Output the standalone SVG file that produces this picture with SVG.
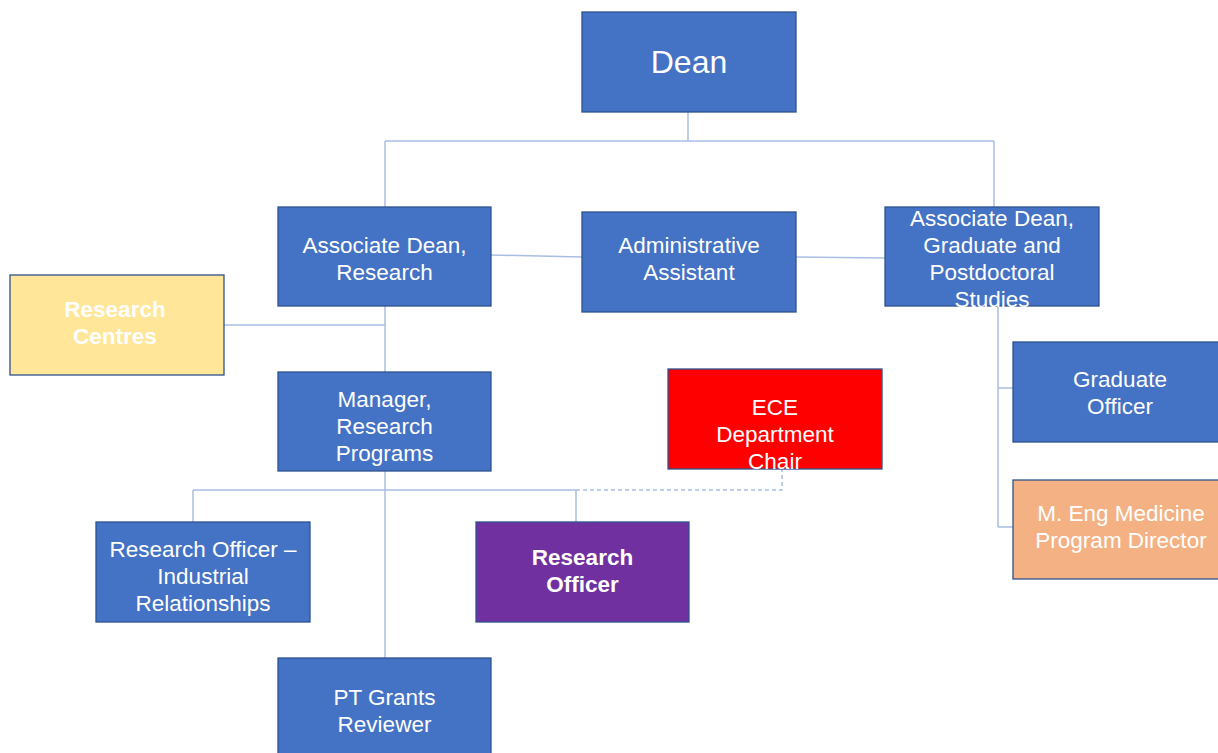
<svg xmlns="http://www.w3.org/2000/svg" width="1218" height="753" viewBox="0 0 1218 753">
<style>
.box{stroke:#2F528F;stroke-width:1.3}
.blue{fill:#4472C4}
.t{font-family:"Liberation Sans",Arial,sans-serif;font-size:22.5px;fill:#fff;text-anchor:middle}
.b{font-weight:bold}
.c{fill:none;stroke:#A9BEE4;stroke-width:1.5}
.d{stroke-dasharray:4 3}
</style>
<rect width="1218" height="753" fill="#fff"/>
<g id="connectors">
<path class="c" d="M688 112V141M385 141H994M385 141V207M994 141V207"/>
<path class="c" d="M491 255L582 257M796 257L885 258"/>
<path class="c" d="M224 325H385M385 306V372"/>
<path class="c" d="M385 471V658M193 490H576M193 490V522M576 490V522"/>
<path class="c d" d="M576 490H782V469"/>
<path class="c" d="M998 306V527M998 388H1013M998 527H1013"/>
</g>
<g id="dean"><rect class="box blue" x="582" y="12" width="214" height="100"/><text class="t" x="689" y="73" style="font-size:32px">Dean</text></g>
<g id="ad-research"><rect class="box blue" x="278" y="207" width="213" height="99"/><text class="t" x="384.5" y="253">Associate Dean,</text><text class="t" x="384.5" y="280">Research</text></g>
<g id="admin"><rect class="box blue" x="582" y="212" width="214" height="100"/><text class="t" x="689" y="253">Administrative</text><text class="t" x="689" y="280">Assistant</text></g>
<g id="ad-grad"><rect class="box blue" x="885" y="207" width="214" height="99"/><text class="t" x="992" y="226">Associate Dean,</text><text class="t" x="992" y="253">Graduate and</text><text class="t" x="992" y="280">Postdoctoral</text><text class="t" x="992" y="307">Studies</text></g>
<g id="research-centres"><rect class="box" fill="#FFE699" x="10" y="275" width="214" height="100"/><text class="t b" x="115" y="317">Research</text><text class="t b" x="115" y="344">Centres</text></g>
<g id="manager"><rect class="box blue" x="278" y="372" width="213" height="99"/><text class="t" x="384.5" y="407">Manager,</text><text class="t" x="384.5" y="434">Research</text><text class="t" x="384.5" y="461">Programs</text></g>
<g id="ece"><rect class="box" fill="#FF0000" x="668" y="369" width="214" height="100"/><text class="t" x="775" y="415">ECE</text><text class="t" x="775" y="442">Department</text><text class="t" x="775" y="469">Chair</text></g>
<g id="ro-industrial"><rect class="box blue" x="96" y="522" width="214" height="100"/><text class="t" x="203" y="557">Research Officer –</text><text class="t" x="203" y="584">Industrial</text><text class="t" x="203" y="611">Relationships</text></g>
<g id="research-officer"><rect class="box" fill="#7030A0" x="476" y="522" width="213" height="100"/><text class="t b" x="582.5" y="565">Research</text><text class="t b" x="582.5" y="592">Officer</text></g>
<g id="pt-grants"><rect class="box blue" x="278" y="658" width="213" height="100"/><text class="t" x="384.5" y="705">PT Grants</text><text class="t" x="384.5" y="732">Reviewer</text></g>
<g id="grad-officer"><rect class="box blue" x="1013" y="342" width="210" height="100"/><text class="t" x="1120" y="387">Graduate</text><text class="t" x="1120" y="414">Officer</text></g>
<g id="meng"><rect class="box" fill="#F4B183" x="1013" y="480" width="210" height="99"/><text class="t" x="1121" y="521">M. Eng Medicine</text><text class="t" x="1121" y="548">Program Director</text></g>
</svg>
